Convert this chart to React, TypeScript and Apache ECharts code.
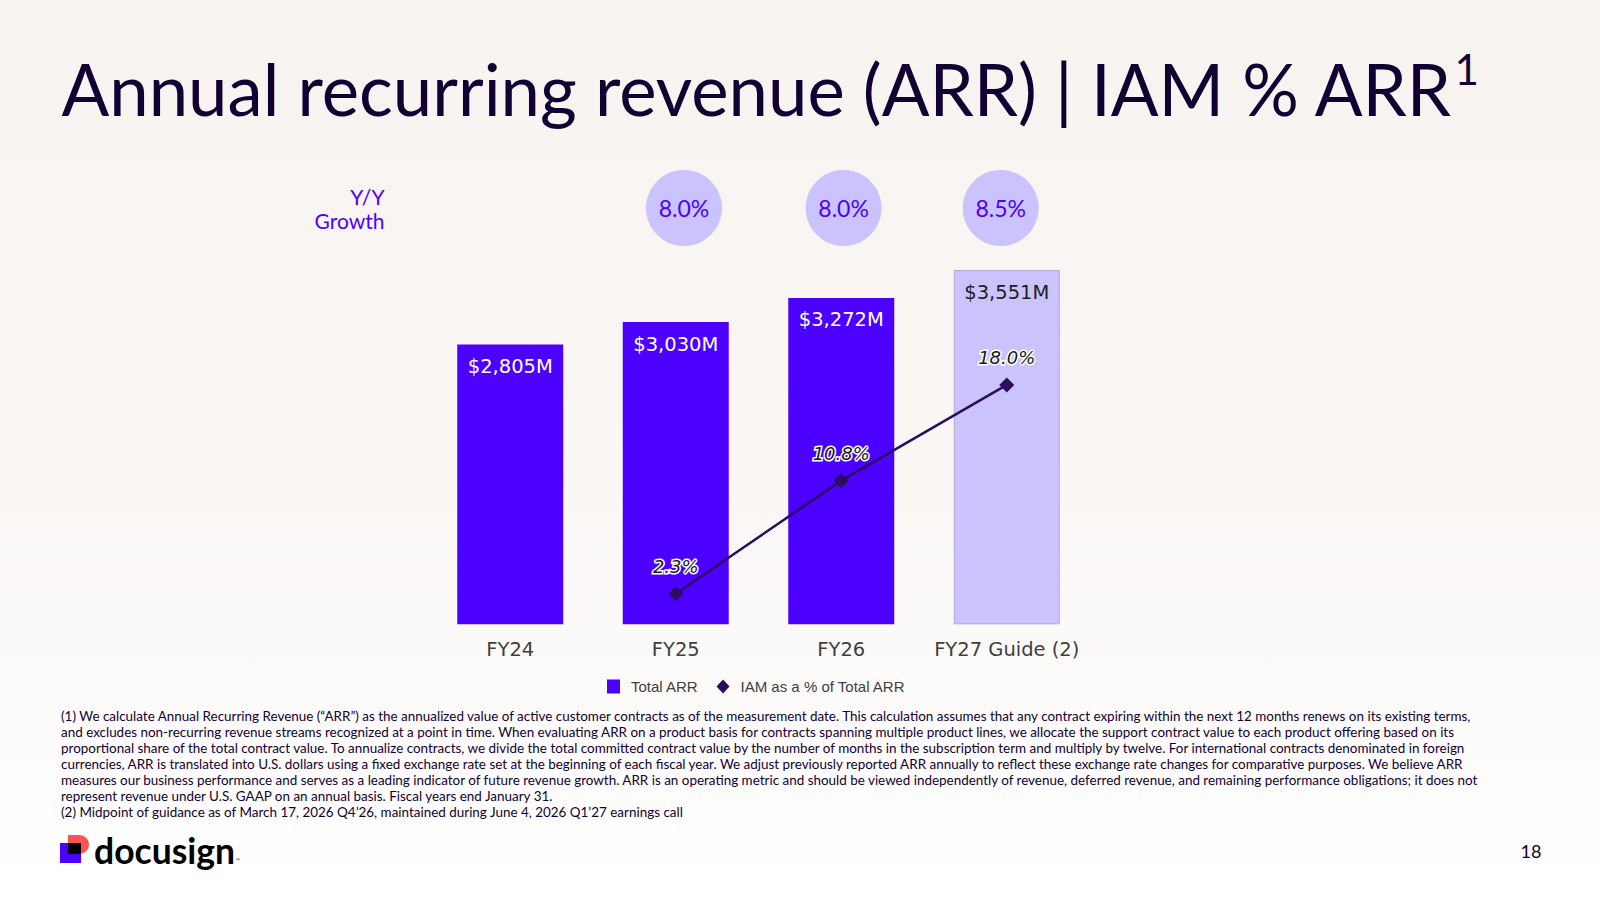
import React, { useEffect, useRef } from 'react';
import * as echarts from 'echarts';

// ---- data ----
const categories = ['FY24', 'FY25', 'FY26', 'FY27 Guide (2)'];
const totalArr = [2805, 3030, 3272, 3551];
const iamShare: (number | null)[] = [null, 2.3, 10.8, 18.0];
const yoyGrowth = [8.0, 8.0, 8.5];
const guideIndex = 3;
const seriesNames = ['Total ARR', 'IAM as a % of Total ARR'];

const titleText = 'Annual recurring revenue (ARR) | IAM % ARR';
const titleNote = '1';
const growthCaption = ['Y/Y', 'Growth'];
const footnotes = [
  '(1) We calculate Annual Recurring Revenue (\u201cARR\u201d) as the annualized value of active customer contracts as of the measurement date. This calculation assumes that any contract expiring within the next 12 months renews on its existing terms,',
  'and excludes non-recurring revenue streams recognized at a point in time. When evaluating ARR on a product basis for contracts spanning multiple product lines, we allocate the support contract value to each product offering based on its',
  'proportional share of the total contract value. To annualize contracts, we divide the total committed contract value by the number of months in the subscription term and multiply by twelve. For international contracts denominated in foreign',
  'currencies, ARR is translated into U.S. dollars using a fixed exchange rate set at the beginning of each fiscal year. We adjust previously reported ARR annually to reflect these exchange rate changes for comparative purposes. We believe ARR',
  'measures our business performance and serves as a leading indicator of future revenue growth. ARR is an operating metric and should be viewed independently of revenue, deferred revenue, and remaining performance obligations; it does not',
  'represent revenue under U.S. GAAP on an annual basis. Fiscal years end January 31.',
  '(2) Midpoint of guidance as of March 17, 2026 Q4\u201926, maintained during June 4, 2026 Q1\u201927 earnings call',
];
const pageNumber = '18';
const brandName = 'docusign';

// ---- styling ----
const PURPLE = '#4c00ff';
const LAVENDER = '#cbc3fd';
const INK = '#130032';
const LINE = '#2a0d5e';
const CORAL = '#ff5252';
const GEO = 'Lato, "Open Sans", sans-serif';
const VERD = '"DejaVu Sans", Verdana, sans-serif';
const ARIAL = '"Liberation Sans", Arial, sans-serif';

const growthX = [684, 843.6, 1000.7];

function textWidth(text: string, font: string): number {
  const ctx = document.createElement('canvas').getContext('2d');
  if (!ctx) return 0;
  ctx.font = font;
  return ctx.measureText(text).width;
}

function txt(x: number, y: number, text: string, opts: any) {
  const align = opts.align || 'left';
  return {
    type: 'text',
    x,
    y,
    silent: true,
    style: {
      text,
      fill: opts.fill || INK,
      fontFamily: opts.fontFamily || GEO,
      fontSize: opts.fontSize,
      fontWeight: opts.fontWeight || 'normal',
      align,
      textAlign: align,
      verticalAlign: 'middle',
      textVerticalAlign: 'middle',
    },
  };
}

export default function App() {
  const ref = useRef<HTMLDivElement>(null);

  useEffect(() => {
    document.body.style.margin = '0';
    if (!ref.current) return;
    const chart = echarts.init(ref.current, undefined, { renderer: 'svg' });

    // title sized to span the content width
    const titleLeft = 61.5;
    const titleSpan = 1392;
    const titleSize = (72 * titleSpan) / (textWidth(titleText, '400 72px Lato') || titleSpan);
    const titleW = textWidth(titleText, `400 ${titleSize}px Lato`);

    // footnotes sized so the first line fills the text column
    const footSpan = 1413;
    const footSize = (13 * footSpan) / (textWidth(footnotes[0], '400 13px Lato') || footSpan);

    const graphics: any[] = [];
    graphics.push(txt(titleLeft, 88, titleText, { fontSize: titleSize }));
    graphics.push(txt(titleLeft + titleW + 1, 68.5, titleNote, { fontSize: 42 }));

    graphics.push(txt(384.5, 196, growthCaption[0], { fontSize: 21, fill: PURPLE, align: 'right' }));
    graphics.push(txt(384.5, 220, growthCaption[1], { fontSize: 21, fill: PURPLE, align: 'right' }));

    yoyGrowth.forEach((g, i) => {
      graphics.push({
        type: 'circle',
        silent: true,
        shape: { cx: growthX[i], cy: 208, r: 38 },
        style: { fill: LAVENDER },
      });
      graphics.push(txt(growthX[i], 208, g.toFixed(1) + '%', { fontSize: 23, fill: PURPLE, align: 'center' }));
    });

    footnotes.forEach((line, i) => {
      graphics.push(txt(61, 716.3 + i * 16, line, { fontSize: footSize, fill: INK }));
    });

    // brand mark
    graphics.push({ type: 'rect', silent: true, shape: { x: 60, y: 843, width: 21, height: 20 }, style: { fill: PURPLE } });
    graphics.push({ type: 'rect', silent: true, shape: { x: 68, y: 835, width: 21, height: 19, r: [0, 9.5, 9.5, 0] }, style: { fill: CORAL } });
    graphics.push({ type: 'rect', silent: true, shape: { x: 68, y: 843, width: 13, height: 11 }, style: { fill: '#000000' } });
    graphics.push(txt(94, 850, brandName, { fontSize: 35.5, fontWeight: 'bold', fill: '#000000' }));
    graphics.push(txt(236, 860, '\u2122', { fontSize: 5, fill: '#000000' }));

    graphics.push(txt(1531, 851, pageNumber, { fontSize: 18, fill: INK, align: 'center' }));

    chart.setOption({
      animation: false,
      backgroundColor: 'transparent',
      tooltip: { show: false },
      legend: {
        left: 602,
        top: 674,
        itemWidth: 13,
        itemHeight: 14,
        itemGap: 18,
        textStyle: { fontFamily: ARIAL, fontSize: 15, color: '#404040', padding: [0, 0, 0, 6] },
        data: [
          { name: seriesNames[0], icon: 'rect' },
          { name: seriesNames[1], icon: 'diamond' },
        ],
      },
      grid: { left: 427.5, width: 662, top: 225.3, height: 399, containLabel: false },
      xAxis: {
        type: 'category',
        data: categories,
        axisLine: { show: false },
        axisTick: { show: false },
        axisLabel: { interval: 0, margin: 15, fontFamily: VERD, fontSize: 19.5, lineHeight: 20, color: '#404040' },
      },
      yAxis: [
        { type: 'value', min: 0, max: 4000, show: false, splitLine: { show: false } },
        { type: 'value', min: 0, max: 30, show: false, splitLine: { show: false } },
      ],
      series: [
        {
          name: seriesNames[0],
          type: 'bar',
          barWidth: 106,
          itemStyle: { color: PURPLE },
          label: {
            show: true,
            position: 'insideTop',
            distance: 12,
            fontFamily: VERD,
            fontSize: 19.5,
            lineHeight: 20,
            color: '#ffffff',
            formatter: (p: any) => '$' + Number(p.value).toLocaleString('en-US') + 'M',
          },
          data: totalArr.map((v, i) =>
            i === guideIndex
              ? { value: v, itemStyle: { color: LAVENDER, borderColor: '#aea6dc', borderWidth: 1 }, label: { color: '#1e1e1e' } }
              : { value: v }
          ),
          z: 2,
        },
        {
          name: seriesNames[1],
          type: 'line',
          yAxisIndex: 1,
          data: iamShare,
          symbol: 'diamond',
          symbolSize: 15,
          connectNulls: false,
          lineStyle: { color: LINE, width: 2.5 },
          itemStyle: { color: LINE },
          label: {
            show: true,
            position: 'top',
            distance: 10,
            fontFamily: VERD,
            fontStyle: 'italic',
            fontSize: 18,
            lineHeight: 20,
            color: '#1a1a1a',
            textBorderColor: '#ffffff',
            textBorderWidth: 3,
            formatter: (p: any) => (p.value == null ? '' : Number(p.value).toFixed(1) + '%'),
          },
          z: 5,
        },
      ],
      graphic: { elements: graphics },
    });

    return () => chart.dispose();
  }, []);

  return (
    <div
      style={{
        position: 'fixed',
        left: 0,
        top: 0,
        width: 1600,
        height: 900,
        background: 'linear-gradient(to bottom, #f7f3f0 0%, #faf7f5 55%, #ffffff 100%)',
      }}
    >
      <div ref={ref} style={{ width: 1600, height: 900 }} />
    </div>
  );
}
